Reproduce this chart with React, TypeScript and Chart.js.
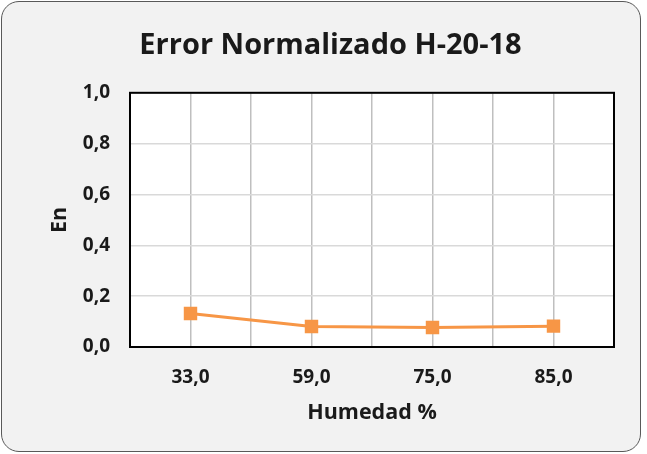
import React, { useEffect, useRef } from "react";
import { Chart, registerables } from "chart.js";

Chart.register(...registerables);

const categories = ["33,0", "59,0", "75,0", "85,0"];
const enValues = [0.132, 0.081, 0.077, 0.082];
const yTicks = [0, 0.2, 0.4, 0.6, 0.8, 1.0];
const chartTitle = "Error Normalizado H-20-18";
const xTitle = "Humedad %";
const yTitle = "En";

const FONT = "'Open Sans', 'Noto Sans', sans-serif";
const TEXT = "#1a1a1a";

const frame = {
  id: "frame",
  beforeDraw(chart: any) {
    const { ctx, chartArea: a } = chart;
    ctx.save();
    ctx.fillStyle = "#ffffff";
    ctx.fillRect(a.left, a.top, a.right - a.left, a.bottom - a.top);
    ctx.restore();
  },
  afterDraw(chart: any) {
    const { ctx, chartArea: a } = chart;
    ctx.save();
    ctx.strokeStyle = "#000000";
    ctx.lineWidth = 2;
    ctx.strokeRect(a.left, a.top, a.right - a.left, a.bottom - a.top);
    ctx.restore();
  },
};

export default function App() {
  const ref = useRef<HTMLCanvasElement>(null);
  useEffect(() => {
    const chart = new Chart(ref.current!, {
      type: "line",
      data: {
        datasets: [
          {
            data: enValues.map((v, i) => ({ x: i, y: v })),
            borderColor: "#f79646",
            backgroundColor: "#f79646",
            borderWidth: 3,
            pointStyle: "rect",
            pointRadius: 9.5,
            pointHoverRadius: 9.5,
            pointBorderWidth: 0,
            tension: 0,
          },
        ],
      },
      options: {
        animation: false,
        responsive: false,
        maintainAspectRatio: false,
        events: [],
        layout: { padding: { left: 47, right: 33, top: 0, bottom: 28 } },
        plugins: {
          legend: { display: false },
          tooltip: { enabled: false },
          title: {
            display: true,
            text: chartTitle,
            color: TEXT,
            font: { family: FONT, size: 29, weight: "bold", lineHeight: 1.2 },
            padding: { top: 28, bottom: 30 },
          },
        },
        scales: {
          x: {
            type: "linear",
            min: -0.5,
            max: 3.5,
            afterBuildTicks(scale: any) {
              const t = [];
              for (let i = -1; i < categories.length * 2; i++) t.push({ value: i / 2 });
              scale.ticks = t;
            },
            afterFit(scale: any) {
              scale.height = 79;
            },
            ticks: {
              autoSkip: false,
              maxRotation: 0,
              padding: 19,
              color: TEXT,
              font: { family: FONT, size: 19, weight: "bold" },
              callback: (v: any) => (Number.isInteger(v) ? categories[v] : ""),
            },
            grid: { color: "#bfbfbf", lineWidth: 1.5, drawTicks: false },
            border: { display: false },
            title: {
              display: true,
              text: xTitle,
              color: TEXT,
              font: { family: FONT, size: 21.5, weight: "bold", lineHeight: 1.2 },
              padding: { top: 0, bottom: 0 },
            },
          },
          y: {
            min: 0,
            max: 1,
            afterBuildTicks(scale: any) {
              scale.ticks = yTicks.map((v) => ({ value: v }));
            },
            afterFit(scale: any) {
              scale.width = 83;
            },
            ticks: {
              padding: 20,
              color: TEXT,
              font: { family: FONT, size: 19, weight: "bold" },
              callback: (v: any) => Number(v).toFixed(1).replace(".", ","),
            },
            grid: { color: "#d9d9d9", lineWidth: 1.5, drawTicks: false },
            border: { display: false },
            title: {
              display: true,
              text: yTitle,
              color: TEXT,
              font: { family: FONT, size: 21.5, weight: "bold", lineHeight: 1.2 },
              padding: { top: 0, bottom: 0 },
            },
          },
        },
      },
      plugins: [frame],
    });
    return () => chart.destroy();
  }, []);

  return (
    <div
      style={{
        position: "fixed",
        left: 0,
        top: 0,
        width: 647,
        height: 454,
        background: "#ffffff",
      }}
    >
      <div
        style={{
          position: "absolute",
          left: 1,
          top: 1,
          width: 640,
          height: 451,
          boxSizing: "border-box",
          border: "1.5px solid #595959",
          borderRadius: 18,
          background: "#f2f2f2",
        }}
      />
      <canvas
        ref={ref}
        width={647}
        height={454}
        style={{ position: "absolute", left: 0, top: 0, width: 647, height: 454 }}
      />
    </div>
  );
}
